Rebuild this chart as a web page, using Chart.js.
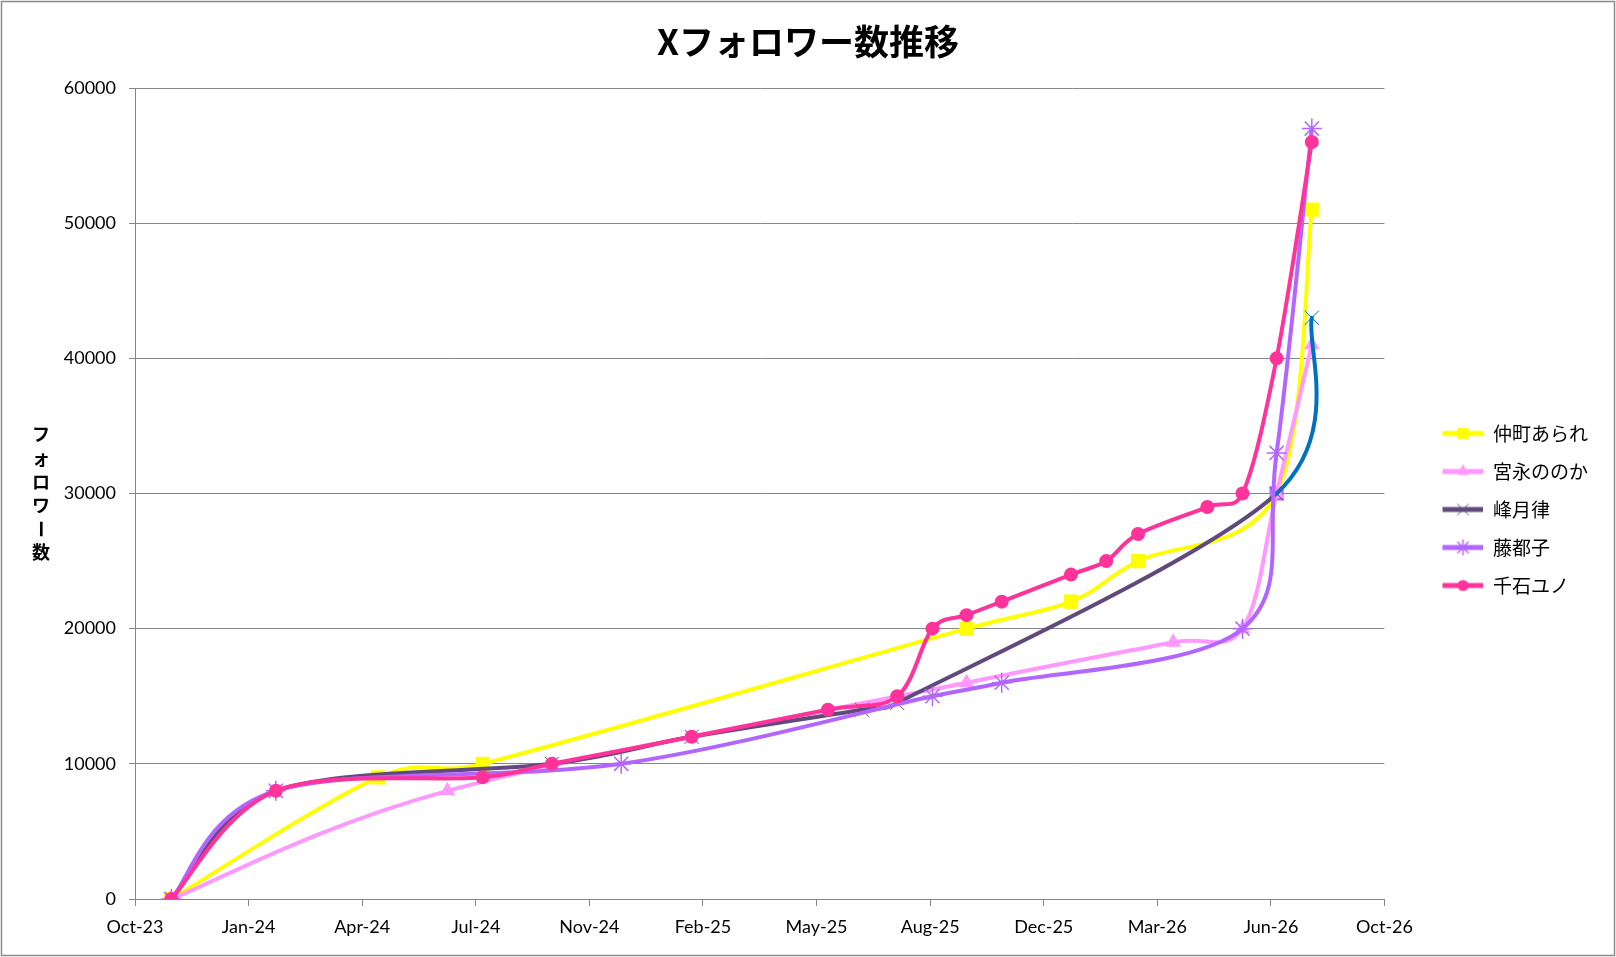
<!DOCTYPE html>
<html>
<head>
<meta charset="utf-8">
<title>Xフォロワー数推移</title>
<script src="https://cdn.jsdelivr.net/npm/chart.js@4.4.1/dist/chart.umd.min.js"></script>
<style>
  html, body { margin: 0; padding: 0; background: #fff; }
  #wrap { width: 1616px; height: 957px; }
</style>
</head>
<body>
<div id="wrap"><canvas id="chart" width="1616" height="957"></canvas></div>
<script>
// series names, in legend order
const seriesNames = ['仲町あられ', '宮永ののか', '峰月律', '藤都子', '千石ユノ'];

// dates and follower counts per person
const nakamachiDates = ['2023-11-02', '2024-05-02', '2024-08-02', '2025-10-02', '2026-01-02', '2026-03-02', '2026-07-02', '2026-08-02'];
const nakamachiValues = [0, 9000, 10000, 20000, 22000, 25000, 30000, 51000];

const miyanagaDates = ['2023-11-02', '2024-07-02', '2025-10-02', '2026-04-02', '2026-06-02', '2026-07-02', '2026-08-02'];
const miyanagaValues = [0, 8000, 16000, 19000, 20000, 30000, 41000];

const hougetsuDates = ['2023-11-02', '2024-02-02', '2024-10-02', '2025-02-02', '2025-07-02', '2025-08-02', '2026-07-02', '2026-08-02'];
const hougetsuValues = [0, 8000, 10000, 12000, 14000, 14500, 30000, 43000];

const fujiDates = ['2023-11-02', '2024-02-02', '2024-12-02', '2025-09-02', '2025-11-02', '2026-06-02', '2026-07-02', '2026-08-02'];
const fujiValues = [0, 8000, 10000, 15000, 16000, 20000, 33000, 57000];

const sengokuDates = ['2023-11-02', '2024-02-02', '2024-08-02', '2024-10-02', '2025-02-02', '2025-06-02', '2025-08-02', '2025-09-02', '2025-10-02', '2025-11-02', '2026-01-02', '2026-02-02', '2026-03-02', '2026-05-02', '2026-06-02', '2026-07-02', '2026-08-02'];
const sengokuValues = [0, 8000, 9000, 10000, 12000, 14000, 15000, 20000, 21000, 22000, 24000, 25000, 27000, 29000, 30000, 40000, 56000];

// x axis: days from 2023-10-01, a tick every 100 days
const xTickLabels = ['Oct-23', 'Jan-24', 'Apr-24', 'Jul-24', 'Nov-24', 'Feb-25', 'May-25', 'Aug-25', 'Dec-25', 'Mar-26', 'Jun-26', 'Oct-26'];
const yTickLabels = ['0', '10000', '20000', '30000', '40000', '50000', '60000'];

const baseDay = Date.UTC(2023, 9, 1);
const toDay = s => {
  const [y, m, d] = s.split('-').map(Number);
  return (Date.UTC(y, m - 1, d) - baseDay) / 86400000;
};
const toPoints = (dates, values) => dates.map((d, i) => ({ x: toDay(d), y: values[i] }));

const styles = [
  { color: '#FFFF00', pointStyle: 'rect', radius: 10, pointBorder: 0 },
  { color: '#FF99FF', pointStyle: 'triangle', radius: 9, pointBorder: 0 },
  { color: '#604A7B', pointStyle: 'crossRot', radius: 10, pointBorder: 1 },
  { color: '#B266FF', pointStyle: 'star', radius: 10, pointBorder: 1.5 },
  { color: '#FF3399', pointStyle: 'circle', radius: 7, pointBorder: 0 }
];

const allDates = [nakamachiDates, miyanagaDates, hougetsuDates, fujiDates, sengokuDates];
const allValues = [nakamachiValues, miyanagaValues, hougetsuValues, fujiValues, sengokuValues];

const datasets = seriesNames.map((name, i) => {
  const st = styles[i];
  const n = allDates[i].length;
  return {
    label: name,
    data: toPoints(allDates[i], allValues[i]),
    borderColor: st.color,
    backgroundColor: st.color,
    borderWidth: 4,
    borderJoinStyle: 'round',
    borderCapStyle: 'round',
    tension: 0.4,
    pointStyle: st.pointStyle,
    pointRadius: st.radius,
    pointHoverRadius: st.radius,
    pointBorderWidth: st.pointBorder,
    pointBackgroundColor: new Array(n).fill(st.color),
    pointBorderColor: new Array(n).fill(st.color),
    order: seriesNames.length - i
  };
});
// per-point formatting the original sheet had
datasets[0].pointBackgroundColor[6] = '#B266FF';
datasets[2].pointBorderColor[hougetsuDates.length - 1] = '#0070C0';
datasets[2].segment = {
  borderColor: c => c.p1DataIndex === hougetsuDates.length - 1 ? '#0070C0' : undefined
};

// Excel style smoothing: control points at +-(next - prev)/6,
// kept shorter than half of the neighbouring segment
const excelSmooth = {
  id: 'excelSmooth',
  beforeDatasetDraw(chart, args) {
    const meta = args.meta;
    meta.dataset.updateControlPoints(chart.chartArea, meta.iScale.axis);
    const pts = meta.data;
    const n = pts.length;
    const k = 0.5;
    for (let i = 0; i < n; i++) {
      const p = pts[i];
      const prev = pts[Math.max(i - 1, 0)];
      const next = pts[Math.min(i + 1, n - 1)];
      const dx = (next.x - prev.x) / 6;
      const dy = (next.y - prev.y) / 6;
      const len = Math.hypot(dx, dy) || 1;
      const back = Math.min(1, k * Math.hypot(p.x - prev.x, p.y - prev.y) / len);
      const fwd = Math.min(1, k * Math.hypot(next.x - p.x, next.y - p.y) / len);
      p.cp1x = p.x - dx * back; p.cp1y = p.y - dy * back;
      p.cp2x = p.x + dx * fwd; p.cp2y = p.y + dy * fwd;
    }
  }
};

// legend icons: line with the marker in the middle
const legendBox = 80;
const legendIcons = styles.map(st => {
  const c = document.createElement('canvas');
  c.width = legendBox;
  c.height = 20;
  const g = c.getContext('2d');
  g.strokeStyle = st.color;
  g.lineWidth = 5;
  g.beginPath();
  g.moveTo(legendBox - 41, 10);
  g.lineTo(legendBox, 10);
  g.stroke();
  g.fillStyle = st.color;
  g.strokeStyle = st.color;
  g.lineWidth = st.pointBorder || 1;
  Chart.helpers.drawPoint(g, { pointStyle: st.pointStyle, radius: st.radius * 0.8, borderWidth: st.pointBorder, rotation: 0 }, legendBox - 20.5, 10);
  return c;
});

const chartBorder = {
  id: 'chartBorder',
  beforeDraw(chart) {
    const ctx = chart.ctx;
    ctx.save();
    ctx.fillStyle = '#fff';
    ctx.fillRect(0, 0, chart.width, chart.height);
    ctx.restore();
  },
  afterDraw(chart) {
    const ctx = chart.ctx;
    ctx.save();
    ctx.strokeStyle = '#8a8a8a';
    ctx.lineWidth = 1.5;
    ctx.strokeRect(1.5, 1.5, chart.width - 3, chart.height - 3);
    ctx.restore();
  }
};

// vertical, upright y axis title (stacked characters)
const yTitle = {
  id: 'yTitle',
  afterDraw(chart) {
    const ctx = chart.ctx;
    const text = 'フォロワー数';
    const step = 23.6;
    const area = chart.chartArea;
    const mid = (area.top + area.bottom) / 2;
    const chars = Array.from(text);
    const y0 = mid - (chars.length - 1) * step / 2;
    ctx.save();
    ctx.fillStyle = '#000';
    ctx.font = 'bold 18px "Noto Sans CJK JP"';
    ctx.textAlign = 'center';
    ctx.textBaseline = 'middle';
    chars.forEach((ch, i) => {
      const y = y0 + i * step;
      if (ch === 'ー') {
        ctx.save();
        ctx.translate(41, y);
        ctx.rotate(Math.PI / 2);
        ctx.fillText(ch, 0, 0);
        ctx.restore();
      } else {
        ctx.fillText(ch, 41, y);
      }
    });
    ctx.restore();
  }
};

new Chart(document.getElementById('chart'), {
  type: 'line',
  data: { datasets },
  options: {
    responsive: false,
    devicePixelRatio: 1,
    animation: false,
    layout: { padding: { left: 18, right: 18, top: 0, bottom: 0 } },
    plugins: {
      title: {
        display: true,
        text: 'Xフォロワー数推移',
        color: '#000',
        font: { family: '"Noto Sans CJK JP"', size: 35, weight: 'bold' },
        padding: { top: 21, bottom: 25 }
      },
      legend: {
        position: 'right',
        title: { display: true, text: ' ', font: { size: 10 }, padding: { top: 25, bottom: 25 } },
        labels: {
          usePointStyle: true,
          pointStyleWidth: legendBox,
          padding: 19,
          color: '#000',
          font: { family: '"Noto Sans CJK JP"', size: 19 },
          generateLabels: chart => chart.data.datasets.map((ds, i) => ({
            text: ds.label,
            datasetIndex: i,
            pointStyle: legendIcons[i],
            fillStyle: ds.borderColor,
            strokeStyle: ds.borderColor,
            fontColor: '#000',
            lineWidth: 0,
            hidden: false
          }))
        }
      },
      tooltip: { enabled: false }
    },
    scales: {
      x: {
        type: 'linear',
        min: 0,
        max: 1100,
        afterFit: s => { s.height = 58; },
        border: { display: true, color: '#868686', width: 1 },
        grid: { drawOnChartArea: false, drawTicks: true, tickLength: 7, color: '#868686' },
        ticks: {
          stepSize: 100,
          autoSkip: false,
          maxRotation: 0,
          padding: 10,
          color: '#000',
          font: { family: 'Lato', size: 18 },
          callback: (v, i) => xTickLabels[i]
        }
      },
      y: {
        min: 0,
        max: 60000,
        afterFit: s => { s.width = 117; },
        border: { display: true, color: '#868686', width: 1 },
        grid: { color: '#868686', lineWidth: 1, drawTicks: true, tickLength: 6 },
        ticks: {
          stepSize: 10000,
          padding: 13,
          color: '#000',
          font: { family: 'Lato', size: 18 },
          callback: (v, i) => yTickLabels[i]
        }
      }
    }
  },
  plugins: [chartBorder, yTitle, excelSmooth]
});
</script>
</body>
</html>
